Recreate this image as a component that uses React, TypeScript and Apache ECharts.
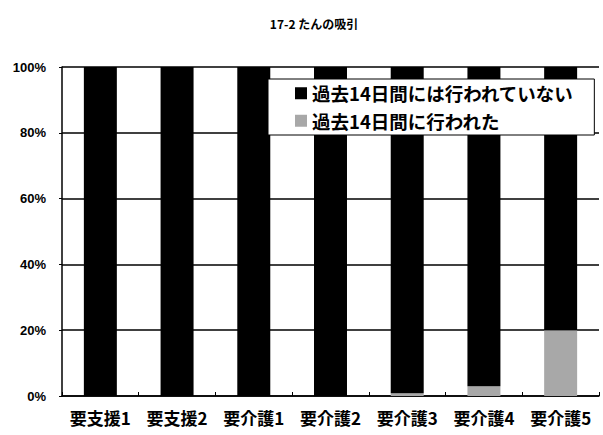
import React, { useEffect, useRef } from "react";
import * as echarts from "echarts";

const titleText = "17-2 たんの吸引";
const categories = ["要支援1", "要支援2", "要介護1", "要介護2", "要介護3", "要介護4", "要介護5"];
const seriesNames = ["過去14日間には行われていない", "過去14日間に行われた"];
const notDone = [100, 100, 100, 100, 99.2, 97, 80];
const done = [0, 0, 0, 0, 0.8, 3, 20];
const yTicks = [0, 20, 40, 60, 80, 100];

export default function App() {
  const ref = useRef<HTMLDivElement>(null);
  useEffect(() => {
    if (!ref.current) return;
    const chart = echarts.init(ref.current, null, { renderer: "svg" });
    chart.setOption({
      animation: false,
      backgroundColor: "#ffffff",
      title: {
        text: titleText,
        left: 309,
        top: 12,
        textAlign: "center",
        textStyle: {
          fontFamily: "Noto Sans CJK JP",
          fontSize: 12,
          fontWeight: "bold",
          color: "#000",
        },
      },
      legend: {
        data: [seriesNames[0], seriesNames[1]],
        orient: "vertical",
        left: 268,
        top: 79,
        padding: [5, 20, 5, 27],
        itemGap: 9,
        itemWidth: 12,
        itemHeight: 12,
        borderColor: "#000",
        borderWidth: 1,
        backgroundColor: "#ffffff",
        borderRadius: 0,
        textStyle: {
          fontFamily: "Noto Sans CJK JP",
          fontSize: 18.5,
          fontWeight: "bold",
          color: "#000",
        },
        icon: "rect",
      },
      grid: { left: 62, right: 4, top: 67, bottom: 39, containLabel: false },
      xAxis: {
        type: "category",
        data: categories,
        boundaryGap: true,
        axisLine: { lineStyle: { color: "#000", width: 1.5 } },
        axisTick: { show: true, inside: true, length: 4, lineStyle: { color: "#000" } },
        axisLabel: {
          interval: 0,
          hideOverlap: false,
          margin: 13,
          fontFamily: "Noto Sans CJK JP",
          fontSize: 17,
          fontWeight: "bold",
          color: "#000",
        },
      },
      yAxis: {
        type: "value",
        min: yTicks[0],
        max: yTicks[yTicks.length - 1],
        interval: 20,
        axisLine: { show: true, lineStyle: { color: "#000", width: 1.5 } },
        axisTick: { show: true, length: 3, lineStyle: { color: "#000" } },
        splitLine: { show: true, lineStyle: { color: "#000", width: 1.5 } },
        axisLabel: {
          margin: 16,
          formatter: "{value}%",
          fontFamily: "Liberation Sans",
          fontSize: 13,
          fontWeight: "bold",
          color: "#000",
        },
      },
      series: [
        {
          name: seriesNames[1],
          type: "bar",
          stack: "total",
          data: done,
          barWidth: "43%",
          itemStyle: { color: "#a8a8a8" },
        },
        {
          name: seriesNames[0],
          type: "bar",
          stack: "total",
          data: notDone,
          barWidth: "43%",
          itemStyle: { color: "#000000" },
        },
      ],
    });
    return () => chart.dispose();
  }, []);
  return <div ref={ref} style={{ width: 603, height: 435, position: "absolute", left: 0, top: 0 }} />;
}
